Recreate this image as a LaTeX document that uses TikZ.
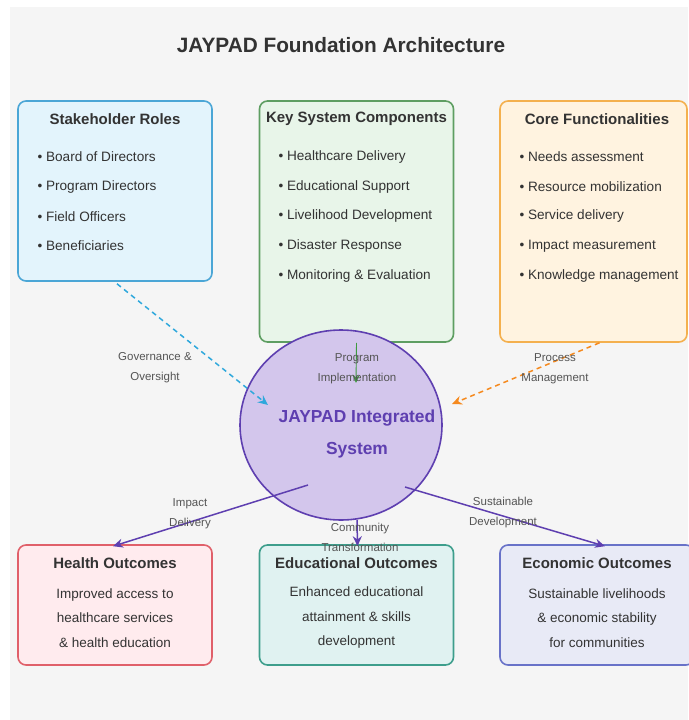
\documentclass[tikz,border=0pt]{standalone}
\usepackage{fontspec}
\setmainfont{Liberation Sans}
\usepackage{xcolor}
\usetikzlibrary{calc,arrows.meta,shapes.geometric}
\definecolor{ink}{HTML}{333333}
\definecolor{muted}{HTML}{555555}
\definecolor{canvas}{HTML}{F5F5F5}
\definecolor{roleline}{HTML}{4BA6D6}
\definecolor{rolefill}{HTML}{E3F4FC}
\definecolor{compline}{HTML}{5E9E62}
\definecolor{compfill}{HTML}{E8F5E9}
\definecolor{coreline}{HTML}{F4B04E}
\definecolor{corefill}{HTML}{FFF3E0}
\definecolor{sysline}{HTML}{5E3FB0}
\definecolor{sysfill}{HTML}{D3C6EC}
\definecolor{healthline}{HTML}{E0606A}
\definecolor{healthfill}{HTML}{FFEBEE}
\definecolor{eduline}{HTML}{3E9E8C}
\definecolor{edufill}{HTML}{E0F2F1}
\definecolor{econline}{HTML}{6872C8}
\definecolor{econfill}{HTML}{E8EAF6}
\definecolor{govarrow}{HTML}{2FA8DC}
\definecolor{progarrow}{HTML}{3E9A40}
\definecolor{procarrow}{HTML}{F58A1F}
\tikzset{
  panel/.style={line width=1.6pt, rounded corners=8pt, minimum width=194pt, inner sep=0pt},
  head/.style={text=ink, font=\fontsize{15}{17}\selectfont\bfseries},
  item/.style={text=ink, anchor=west, font=\fontsize{13.6}{15}\selectfont},
  body/.style={text=ink, align=center, font=\fontsize{13.5}{24.5}\selectfont},
  lbl/.style={text=muted, align=center, font=\fontsize{11.5}{20}\selectfont},
  flow/.style={-{Stealth[length=10pt,width=9pt]}, line width=1.5pt},
}
\begin{document}
\begin{tikzpicture}[x=1pt,y=-1pt]
  \useasboundingbox (0,0) rectangle (688,720);
  \fill[white] (0,0) rectangle (688,720);
  \fill[canvas] (10,7) rectangle (688,720);

  \node[text=ink, font=\fontsize{20.8}{24}\selectfont\bfseries] (title) at (341,45) {JAYPAD Foundation Architecture};

  % top row
  \node[panel, draw=roleline, fill=rolefill, minimum height=180pt] (roles) at (115,191) {};
  \node[panel, draw=compline, fill=compfill, minimum height=241pt] (comps) at (356.5,221.5) {};
  \node[panel, draw=coreline, fill=corefill, minimum width=187pt, minimum height=241pt] (core) at (593.5,221.5) {};

  \node[head] (rolesh) at (115,119) {Stakeholder Roles};
  \node[head] (compsh) at (356.5,119) {Key System Components};
  \node[head] (coreh) at (597,119) {Core Functionalities};

  \foreach \t [count=\i] in {Board of Directors, Program Directors, Field Officers, Beneficiaries}
    \node[item] (rolei\i) at (34,{127.5+29.6*\i}) {• \t};
  \foreach \t [count=\i] in {Healthcare Delivery, Educational Support, Livelihood Development, Disaster Response, Monitoring \& Evaluation}
    \node[item] (compi\i) at (275,{127.5+29.6*\i}) {• \t};
  \foreach \t [count=\i] in {Needs assessment, Resource mobilization, Service delivery, Impact measurement, Knowledge management}
    \node[item] (corei\i) at (516,{127.5+29.6*\i}) {• \t};

  % bottom row
  \node[panel, draw=healthline, fill=healthfill, minimum height=120pt] (health) at (115,605) {};
  \node[panel, draw=eduline, fill=edufill, minimum height=120pt] (edu) at (356.5,605) {};
  \node[panel, draw=econline, fill=econfill, minimum height=120pt] (econ) at (597,605) {};

  \node[head] (healthh) at (115,563) {Health Outcomes};
  \node[head] (eduh) at (356.5,563) {Educational Outcomes};
  \node[head] (econh) at (597,563) {Economic Outcomes};

  \node[body] (healthb) at (115,618) {Improved access to\\healthcare services\\\& health education};
  \node[body] (edub) at (356.5,618) {Enhanced educational\\attainment \& skills\\development};
  \node[body] (econb) at (597,618) {Sustainable livelihoods\\\& economic stability\\for communities};

  % centre
  \node[ellipse, draw=sysline, fill=sysfill, line width=1.6pt, minimum width=202pt, minimum height=190pt, inner sep=0pt] (sys) at (341,425) {};
  \node[text=sysline, align=center, font=\fontsize{17.4}{32}\selectfont\bfseries] (sysh) at (357,434) {JAYPAD Integrated\\System};

  \coordinate (govend) at ($(sys.center)+(-73,-20)$);
  \coordinate (progend) at ($(sys.center)+(15,-42)$);
  \coordinate (procend) at ($(sys.center)+(111,-21)$);
  \coordinate (impstart) at ($(sys.center)+(-33,60)$);
  \coordinate (comstart) at ($(sys.center)+(16,95)$);
  \coordinate (susstart) at ($(sys.center)+(64,62)$);

  \draw[flow, govarrow, dashed, dash pattern=on 5pt off 4pt] ($(roles.south)+(2,2)$) -- (govend);
  \draw[flow, procarrow, dashed, dash pattern=on 5pt off 4pt] ($(core.south)+(6,0)$) -- (procend);
  \draw[-{Stealth[length=8pt,width=7pt]}, progarrow, line width=0.9pt] (comps.south) -- (progend);
  \draw[flow, sysline] (impstart) -- ($(health.north)+(-2,2)$);
  \draw[flow, sysline] (comstart) -- ($(edu.north)+(1,2)$);
  \draw[flow, sysline] (susstart) -- ($(econ.north)+(8,2)$);

  \node[lbl] (govl) at (155,368) {Governance \&\\Oversight};
  \node[lbl] (progl) at (357,369) {Program\\Implementation};
  \node[lbl] (procl) at (555,369) {Process\\Management};
  \node[lbl] (impl) at (190,514) {Impact\\Delivery};
  \node[lbl] (coml) at (360,537) {Community\\Transformation};
  \node[lbl] (susl) at (503,513) {Sustainable\\Development};
\end{tikzpicture}
\end{document}
